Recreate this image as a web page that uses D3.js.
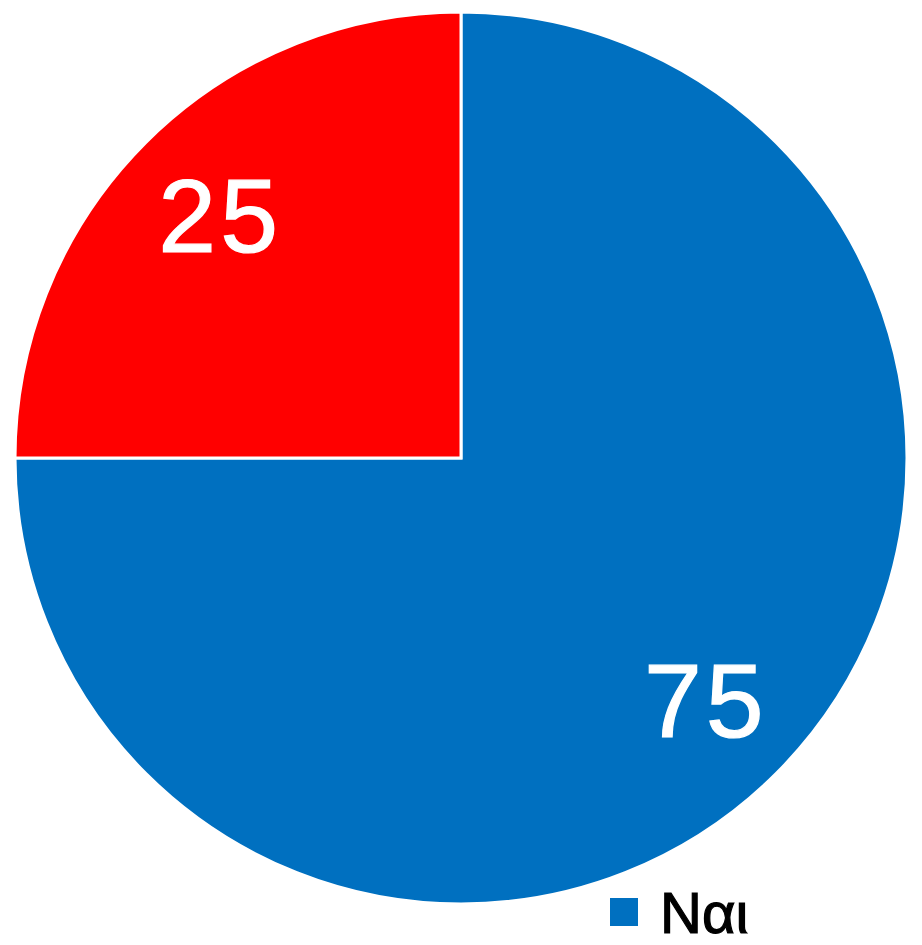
<!DOCTYPE html>
<html><head><meta charset="utf-8">
<script src="https://cdn.jsdelivr.net/npm/d3@7"></script>
<style>html,body{margin:0;padding:0;background:#fff;}svg{display:block;}</style>
</head><body>
<svg id="chart" width="922" height="945"></svg>
<script>
const categories = ["Ναι", "Όχι"];
const values = [75, 25];
const colors = ["#0070C0", "#FF0000"];
const legendCategories = ["Ναι"];

const svg = d3.select("#chart");
const cx = 461, cy = 458, r = 446;
const g = svg.append("g").attr("transform", `translate(${cx},${cy})`);
const pie = d3.pie().sort(null).value(d => d.v);
const data = pie(categories.map((c, i) => ({c, v: values[i], col: colors[i]})));
const arc = d3.arc().innerRadius(0).outerRadius(r);
const labelArc = d3.arc().innerRadius(r * 0.77).outerRadius(r * 0.77);

g.selectAll("path").data(data).join("path")
  .attr("d", arc)
  .attr("fill", d => d.data.col)
  .attr("stroke", "#fff")
  .attr("stroke-width", 3)
  .attr("stroke-linejoin", "miter");

g.selectAll("text.lbl").data(data).join("text")
  .attr("class", "lbl")
  .attr("transform", d => `translate(${labelArc.centroid(d)})`)
  .attr("text-anchor", "middle")
  .attr("dy", "0.35em")
  .attr("dx", 2)
  .attr("letter-spacing", 4)
  .attr("font-family", "Liberation Sans, Arial, sans-serif")
  .attr("font-size", 104)
  .attr("fill", "#fff")
  .attr("stroke", "#fff")
  .attr("stroke-width", 1.2)
  .text(d => d.data.v);

const lg = svg.append("g").attr("transform", "translate(610,898)");
legendCategories.forEach((c, i) => {
  const item = lg.append("g").attr("transform", `translate(${i * 200},0)`);
  item.append("rect").attr("width", 28).attr("height", 28)
    .attr("fill", colors[categories.indexOf(c)]);
  item.append("text").attr("x", 50).attr("y", 35)
    .attr("font-family", "Liberation Sans, Arial, sans-serif")
    .attr("font-size", 58).attr("fill", "#000")
    .attr("stroke", "#000").attr("stroke-width", 1.2)
    .text(c);
});
</script>
</body></html>
